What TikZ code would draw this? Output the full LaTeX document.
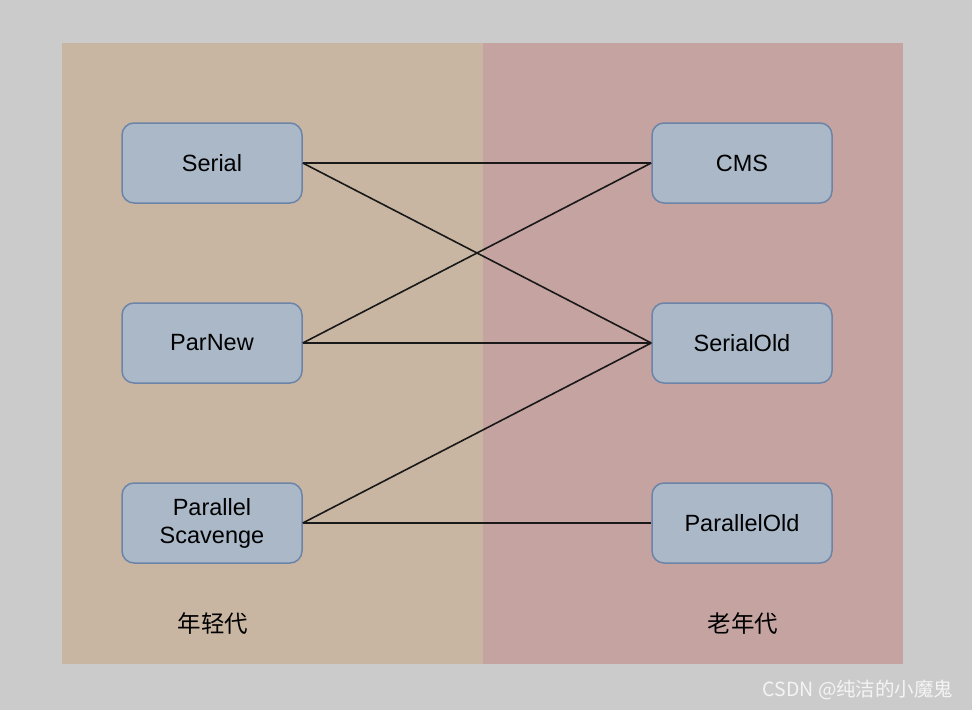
\documentclass[tikz,border=0pt]{standalone}
\usepackage{fontspec}
\setmainfont{Liberation Sans}
\newfontfamily\cjk{Noto Sans CJK SC}
\definecolor{bggray}{HTML}{CBCBCB}
\definecolor{youngbg}{HTML}{C8B6A2}
\definecolor{oldbg}{HTML}{C4A3A1}
\definecolor{nodefill}{HTML}{AAB8C8}
\definecolor{nodeborder}{HTML}{6C84A8}
\definecolor{wm}{HTML}{F4F4F4}
\tikzset{
  gcbox/.style={draw=nodeborder, fill=nodefill, line width=1.5pt, rounded corners=12pt,
    minimum width=180pt, minimum height=80pt, inner sep=0pt, align=center,
    font=\fontsize{23.5}{28}\selectfont},
  link/.style={draw=black!90, line width=1.6pt},
  zone/.style={font=\cjk\fontsize{23.5}{28}\selectfont}
}
\begin{document}
\begin{tikzpicture}[x=1pt,y=-1pt]
\useasboundingbox (0,0) rectangle (972,710);
\fill[bggray] (0,0) rectangle (972,710);
\fill[youngbg] (62,43) rectangle (483,664);
\fill[oldbg] (483,43) rectangle (903,664);
\node[gcbox] (serial) at (212,163) {Serial};
\node[gcbox] (parnew) at (212,343) {ParNew};
\node[gcbox] (ps) at (212,523) {Parallel\\Scavenge};
\node[gcbox] (cms) at (742,163) {CMS};
\node[gcbox] (so) at (742,343) {SerialOld};
\node[gcbox] (po) at (742,523) {ParallelOld};
\draw[link] (serial.east) -- (cms.west);
\draw[link] (serial.east) -- (so.west);
\draw[link] (parnew.east) -- (cms.west);
\draw[link] (parnew.east) -- (so.west);
\draw[link] (ps.east) -- (so.west);
\draw[link] (ps.east) -- (po.west);
\node[zone] (young) at (213,624) {年轻代};
\node[zone] (old) at (743,624) {老年代};
\node[font=\cjk\fontsize{19.5}{22}\selectfont, text=wm, anchor=east] (wmk) at (957,690) {CSDN @纯洁的小魔鬼};
\end{tikzpicture}
\end{document}
